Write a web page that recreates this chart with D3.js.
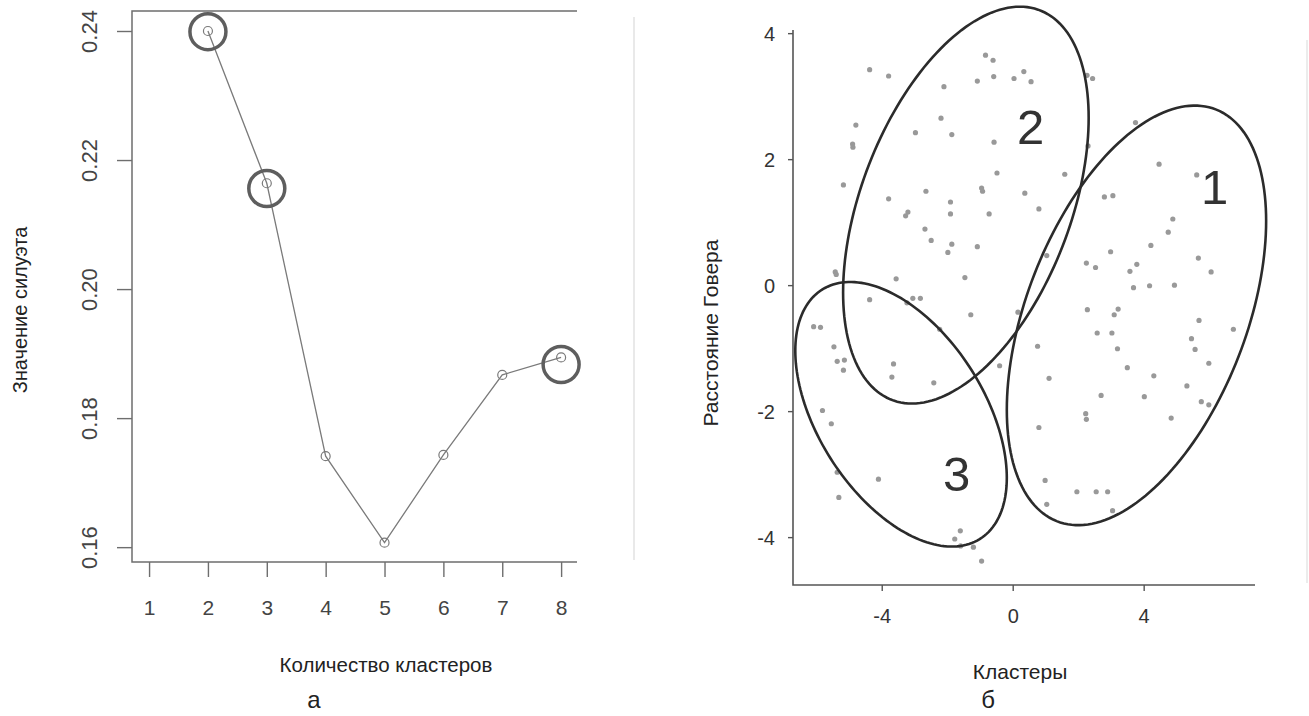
<!DOCTYPE html>
<html>
<head>
<meta charset="utf-8">
<script src="https://cdn.jsdelivr.net/npm/d3@7"></script>
<style>
  body { margin: 0; background: #fff; }
  svg { display: block; }
  text { font-family: "Liberation Sans", Arial, sans-serif; }
</style>
</head>
<body>
<svg id="chart" width="1309" height="716"></svg>
<script>
// panel a: silhouette by number of clusters
const clusterCounts = [2, 3, 4, 5, 6, 7, 8];
const silhouette = [0.2400, 0.2164, 0.1741, 0.1607, 0.1743, 0.1867, 0.1894];
const kTicks = [1, 2, 3, 4, 5, 6, 7, 8];
const silTicks = [0.16, 0.18, 0.20, 0.22, 0.24];
const markedK = [2, 3, 8];
const markedSil = [0.2399, 0.2156, 0.1883];

// panel б: Gower distance map
const gowerX = [-4.37, -3.79, -0.83, -0.60, -1.08, -0.58, -2.10, -2.19, -1.86, -2.97, -4.79, -4.89, -4.88, -0.57, -0.48,
  -5.17, -3.79, -2.65, -0.95, -0.92, -1.90, -1.90, -0.72, -3.20, -3.27, -2.68, -2.49, -1.86, -1.98, -1.08, -1.46, -3.56,
  -5.42, -5.39, 0.34, 0.04, 0.56, 2.44, 2.27, 3.75, 4.47, 5.62, 1.59, 2.30, 0.37, 0.80, 2.80, 3.06, 4.89, 4.75, 4.22,
  2.99, 2.25, 2.53, 3.79, 3.58, 5.67, 6.06, 1.04, 3.69, 4.18, 4.94, 0.16, 0.76, 2.28, 3.22, 3.10, 2.58, 3.03, 3.20, 3.50,
  4.31, 5.32, 5.69, 6.74, 5.46, 5.57, 5.99, 1.11, 2.70, 4.02, 5.76, 5.99, 4.84, 2.23, 2.25, 0.80, 0.99, 1.96, 2.55, 2.90,
  1.04, 3.05, -0.40, -4.37, -3.05, -2.82, -3.23, -1.28, -2.23, -6.08, -5.87, -5.46, -5.36, -5.14, -5.17, -3.64, -3.69,
  -2.41, -5.81, -5.54, -5.36, -4.10, -5.31, -1.60, -1.77, -1.59, -1.20, -0.95];
const gowerY = [3.42, 3.32, 3.65, 3.57, 3.24, 3.31, 3.15, 2.65, 2.39, 2.42, 2.54, 2.24, 2.19, 2.27, 1.78,
  1.59, 1.37, 1.49, 1.54, 1.49, 1.32, 1.13, 1.13, 1.16, 1.10, 0.89, 0.71, 0.65, 0.52, 0.61, 0.12, 0.10,
  0.21, 0.17, 3.39, 3.28, 3.23, 3.28, 3.33, 2.58, 1.92, 1.75, 1.76, 2.21, 1.46, 1.21, 1.40, 1.42, 1.05, 0.84, 0.63,
  0.53, 0.35, 0.28, 0.33, 0.22, 0.43, 0.21, 0.47, -0.04, -0.01, 0.00, -0.43, -0.97, -0.39, -0.38, -0.47, -0.76, -0.76, -1.01, -1.31,
  -1.44, -1.60, -0.56, -0.70, -0.85, -1.02, -1.24, -1.48, -1.75, -1.77, -1.85, -1.90, -2.11, -2.04, -2.13, -2.26, -3.10, -3.28, -3.28, -3.28,
  -3.48, -3.58, -1.28, -0.23, -0.21, -0.21, -0.28, -0.47, -0.70, -0.66, -0.67, -0.98, -1.21, -1.19, -1.35, -1.25, -1.46,
  -1.55, -1.99, -2.20, -2.97, -3.08, -3.37, -3.90, -4.03, -4.14, -4.16, -4.38];
const gowerXTicks = [-4, 0, 4];
const gowerYTicks = [-4, -2, 0, 2, 4];

// cluster ellipses (data units) and their numbers
const clusterNames = ['1', '2', '3'];
const ellCx = [3.78, -1.43, -3.41];
const ellCy = [-0.48, 1.27, -2.05];
const ellRx = [3.96, 3.75, 3.23];
const ellRy = [3.33, 3.15, 2.10];
const ellRho = [0.45, 0.44, -0.48];
const nameX = [6.17, 0.55, -1.71];
const nameY = [1.57, 2.52, -2.98];

const svg = d3.select('#chart');

// ---------- panel a ----------
const xK = d3.scaleLinear().domain([0.71, 8.27]).range([132, 577]);
const ySil = d3.scaleLinear().domain([0.1577, 0.2431]).range([562, 11]);

const left = svg.append('g');

//frame: left, bottom and top lines
left.append('path')
  .attr('d', `M${xK.range()[1]},${ySil.range()[1]}H${xK.range()[0]}V${ySil.range()[0]}H${xK.range()[1]}`)
  .attr('fill', 'none')
  .attr('stroke', '#6e6e6e')
  .attr('stroke-width', 1.5);

const yAxisA = left.append('g')
  .attr('transform', `translate(${xK.range()[0]},0)`)
  .call(d3.axisLeft(ySil).tickValues(silTicks).tickSize(15).tickFormat(d3.format('.2f')));
yAxisA.select('.domain').remove();
yAxisA.selectAll('line').attr('stroke', '#6e6e6e').attr('stroke-width', 1.4);
yAxisA.selectAll('text')
  .attr('x', null).attr('dy', null)
  .attr('transform', 'translate(-35,0) rotate(-90)')
  .attr('text-anchor', 'middle')
  .attr('font-size', 22)
  .attr('fill', '#444');

const xAxisA = left.append('g')
  .attr('transform', `translate(0,${ySil.range()[0]})`)
  .call(d3.axisBottom(xK).tickValues(kTicks).tickSize(15));
xAxisA.select('.domain').remove();
xAxisA.selectAll('line').attr('stroke', '#6e6e6e').attr('stroke-width', 1.4);
xAxisA.selectAll('text')
  .attr('y', 53).attr('dy', null)
  .attr('font-size', 21)
  .attr('fill', '#444');

//line and points
const silData = clusterCounts.map((k, i) => ({ k, s: silhouette[i] }));
left.append('path')
  .datum(silData)
  .attr('fill', 'none')
  .attr('stroke', '#7a7a7a')
  .attr('stroke-width', 1.3)
  .attr('d', d3.line().x(d => xK(d.k)).y(d => ySil(d.s)));

left.selectAll('circle.pt')
  .data(silData)
  .enter()
  .append('circle')
  .attr('class', 'pt')
  .attr('cx', d => xK(d.k))
  .attr('cy', d => ySil(d.s))
  .attr('r', 4.5)
  .attr('fill', 'none')
  .attr('stroke', '#7a7a7a')
  .attr('stroke-width', 1.2);

//highlighted choices
left.selectAll('circle.mark')
  .data(markedK)
  .enter()
  .append('circle')
  .attr('class', 'mark')
  .attr('cx', d => xK(d))
  .attr('cy', (d, i) => ySil(markedSil[i]))
  .attr('r', 18)
  .attr('fill', 'none')
  .attr('stroke', '#5e5e5e')
  .attr('stroke-width', 3.5);

left.append('text')
  .attr('transform', 'translate(27,310) rotate(-90)')
  .attr('text-anchor', 'middle')
  .attr('font-size', 20)
  .attr('fill', '#222')
  .text('Значение силуэта');

left.append('text')
  .attr('x', 386).attr('y', 672)
  .attr('text-anchor', 'middle')
  .attr('font-size', 20.5)
  .attr('fill', '#222')
  .text('Количество кластеров');

left.append('text')
  .attr('x', 314).attr('y', 708)
  .attr('text-anchor', 'middle')
  .attr('font-size', 24)
  .attr('fill', '#222')
  .text('а');

//faint separators
svg.append('line')
  .attr('x1', 634).attr('x2', 634).attr('y1', 17).attr('y2', 560)
  .attr('stroke', '#e2e2e2').attr('stroke-width', 1.5);
svg.append('line')
  .attr('x1', 1307).attr('x2', 1307).attr('y1', 40).attr('y2', 583)
  .attr('stroke', '#e6e6e6').attr('stroke-width', 1.5);

// ---------- panel б ----------
const xs = d3.scaleLinear().domain([-6.71, 7.4]).range([793, 1255]);
const ys = d3.scaleLinear().domain([-4.76, 4.05]).range([585, 30]);

const right = svg.append('g');

right.append('path')
  .attr('d', `M${xs.range()[0]},${ys.range()[1]}V${ys.range()[0]}H${xs.range()[1]}`)
  .attr('fill', 'none')
  .attr('stroke', '#555')
  .attr('stroke-width', 1.6);

//plain hyphen for negatives, as in the original
const plainInt = d => String(d);

const yAxisB = right.append('g')
  .attr('transform', `translate(${xs.range()[0]},0)`)
  .call(d3.axisLeft(ys).tickValues(gowerYTicks).tickSize(5).tickPadding(13).tickFormat(plainInt));
yAxisB.select('.domain').remove();
yAxisB.selectAll('line').attr('stroke', '#555').attr('stroke-width', 1.4);
yAxisB.selectAll('text').attr('dy', '0.36em').attr('font-size', 20).attr('fill', '#333');

const xAxisB = right.append('g')
  .attr('transform', `translate(0,${ys.range()[0]})`)
  .call(d3.axisBottom(xs).tickValues(gowerXTicks).tickSize(6).tickFormat(plainInt));
xAxisB.select('.domain').remove();
xAxisB.selectAll('line').attr('stroke', '#555').attr('stroke-width', 1.4);
xAxisB.selectAll('text').attr('y', 38).attr('dy', null).attr('font-size', 20).attr('fill', '#333');

//points
right.selectAll('circle')
  .data(gowerX.map((x, i) => ({ x, y: gowerY[i] })))
  .enter()
  .append('circle')
  .attr('cx', d => xs(d.x))
  .attr('cy', d => ys(d.y))
  .attr('r', 2.6)
  .attr('fill', '#999');

//ellipses: center + L·(cos t, sin t) with L the cholesky of the cluster spread
const ellipsePath = i => {
  const pts = d3.range(0, 2 * Math.PI + 0.01, Math.PI / 90).map(t => [
    xs(ellCx[i] + ellRx[i] * Math.cos(t)),
    ys(ellCy[i] + ellRho[i] * ellRy[i] * Math.cos(t) + ellRy[i] * Math.sqrt(1 - ellRho[i] ** 2) * Math.sin(t))
  ]);
  return d3.line().curve(d3.curveLinearClosed)(pts);
};

right.selectAll('path.ell')
  .data(clusterNames)
  .enter()
  .append('path')
  .attr('class', 'ell')
  .attr('d', (d, i) => ellipsePath(i))
  .attr('fill', 'none')
  .attr('stroke', '#2b2b2b')
  .attr('stroke-width', 2.6);

right.selectAll('text.name')
  .data(clusterNames)
  .enter()
  .append('text')
  .attr('class', 'name')
  .attr('x', (d, i) => xs(nameX[i]))
  .attr('y', (d, i) => ys(nameY[i]))
  .attr('dy', '0.36em')
  .attr('text-anchor', 'middle')
  .attr('font-size', 49)
  .attr('fill', '#333')
  .text(d => d);

right.append('text')
  .attr('transform', 'translate(718,333) rotate(-90)')
  .attr('text-anchor', 'middle')
  .attr('font-size', 21)
  .attr('fill', '#222')
  .text('Расстояние Говера');

right.append('text')
  .attr('x', 1020).attr('y', 679)
  .attr('text-anchor', 'middle')
  .attr('font-size', 21)
  .attr('fill', '#222')
  .text('Кластеры');

right.append('text')
  .attr('x', 988).attr('y', 708)
  .attr('text-anchor', 'middle')
  .attr('font-size', 24)
  .attr('fill', '#222')
  .text('б');
</script>
</body>
</html>
